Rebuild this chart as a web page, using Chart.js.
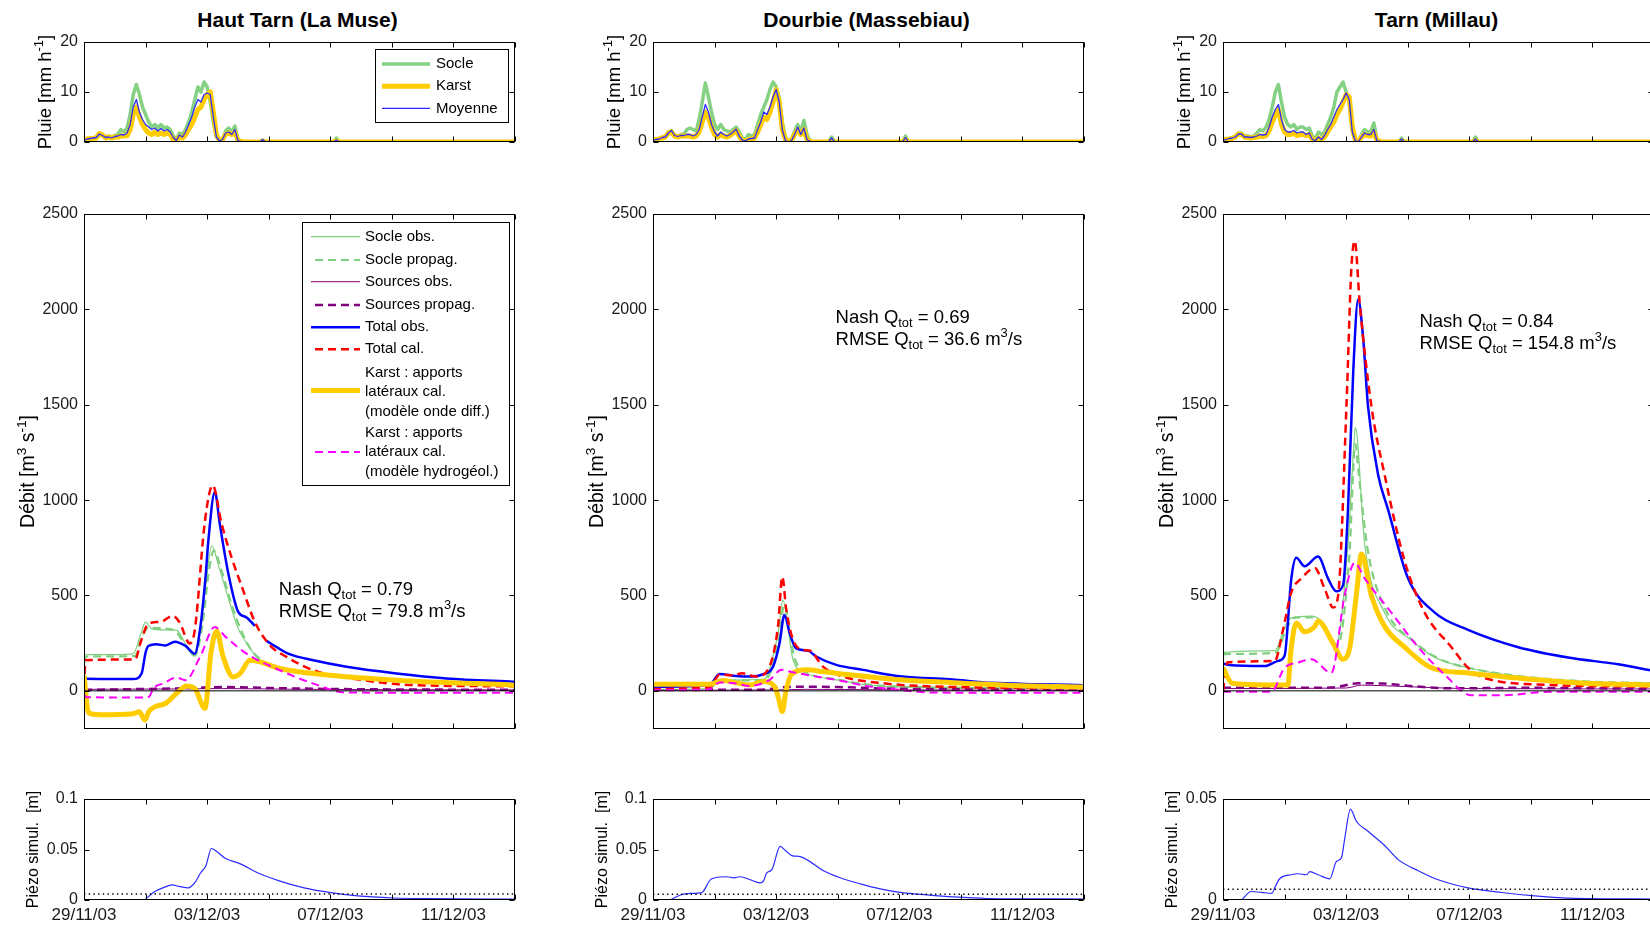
<!DOCTYPE html>
<html><head><meta charset="utf-8">
<script src="https://cdn.jsdelivr.net/npm/chart.js@4.4.1/dist/chart.umd.min.js"></script>
<style>
html,body{margin:0;padding:0;background:#fff;width:1650px;height:925px;overflow:hidden;position:relative}
canvas{position:absolute}
.title{position:absolute;font:bold 21px 'Liberation Sans',Arial,sans-serif;color:#000;transform:translate(-50%,-50%);white-space:nowrap}
</style></head><body>
<script>
// ---------------- DATA ----------------
const titles = ['Haut Tarn (La Muse)', 'Dourbie (Massebiau)', 'Tarn (Millau)'];
const xTickVals = [0, 2, 4, 6, 8, 10, 12, 14];
const xTickLabels = ['29/11/03', '', '03/12/03', '', '07/12/03', '', '11/12/03', ''];
const rainTicks = [0, 10, 20];
const debitTicks = [0, 500, 1000, 1500, 2000, 2500];
const piezoTicksA = [0, 0.05, 0.1];
const piezoTicksB = [0, 0.05];
const nashVals = ['0.79', '0.69', '0.84'];
const rmseVals = ['79.8', '36.6', '154.8'];
const piezoThreshold = [0.006, 0.0057, 0.0053];
const rainLegendLabels = ['Socle', 'Karst', 'Moyenne'];
const debitLegendLabels = [['Socle obs.'], ['Socle propag.'], ['Sources obs.'], ['Sources propag.'], ['Total obs.'], ['Total cal.'],
  ['Karst : apports', 'latéraux cal.', '(modèle onde diff.)'], ['Karst : apports', 'latéraux cal.', '(modèle hydrogéol.)']];

// rain time grid (days since 29/11/03)
const rainT = [0,0.1,0.2,0.3,0.4,0.5,0.6,0.7,0.8,0.9, 1,1.1,1.2,1.3,1.4,1.5,1.6,1.7,1.8,1.9,
  2,2.1,2.2,2.3,2.4,2.5,2.6,2.7,2.8,2.9, 3,3.1,3.2,3.3,3.4,3.5,3.6,3.7,3.8,3.9,
  4,4.1,4.2,4.3,4.4,4.5,4.6,4.7,4.8,4.9, 5,5.1,5.2, 5.7,5.8,5.9,8.1,8.2,8.3,14];

const htRainSocle = [0.3,0.6,0.7,0.8,1.0,1.8,1.5,1.0,1.2,1.0, 1.3,1.5,2.5,2.0,2.8,5.5,9.5,11.5,9.5,7,
  5.5,4,3,3.5,2.8,3.5,2.8,3,2.5,1.2, 0.5,1.8,1.5,2.5,4,6,8.5,11,10,12,
  11,8,4,1,0.2,0.5,2.2,2.8,2,3.2, 0.5,0.1,0, 0,0.4,0,0,0.8,0,0];
const htRainKarst = [0.3,0.6,0.7,0.7,0.8,1.7,1.4,0.8,1.0,0.8, 1.0,1.0,1.2,1.2,1.3,2.5,5.5,7,5,3.5,
  2.5,1.8,1.5,2,1.5,1.8,1.5,1.8,1.5,0.5, 0.3,1.0,0.8,1.5,2.5,3.5,5,6.5,7,8.5,
  9.5,10,6,1.5,0.2,0.5,1.5,1.8,1.5,2, 0.3,0.1,0, 0,0.1,0,0,0.2,0,0];
const htRainMoy = [0.3,0.6,0.7,0.8,0.9,1.6,1.3,0.9,1.0,0.8, 1.1,1.2,1.5,1.4,1.8,3.5,7,8.5,6,4.5,
  3.5,3,2.5,2.8,2.2,2.7,2.2,2.5,2,0.9, 0.3,1.4,1.0,2,3.5,5,7,8.5,8,9.5,
  9.8,9.5,5,1,0.2,0.5,1.8,2,1.5,2.5, 0.3,0.1,0, 0,0.5,0,0,0.4,0,0];

const dbRainSocle = [0.3,0.5,0.7,0.9,1.2,2.0,2.3,1.5,1.2,1.5, 1.5,2.5,2.8,2.5,2.2,4.5,8,11.8,9,6,
  3.5,2.5,3.5,2.5,2.2,2,2.5,3,2,0.8, 0.5,1.5,1.2,1.5,3.5,5.5,7,8.5,10.5,12,
  11,9,4,1,0.2,0.5,2.2,3.5,2,4.3, 1.5,0.2,0, 0,1.0,0,0,1.2,0,0];
const dbRainKarst = [0.3,0.5,0.6,0.8,1.0,1.8,2.0,1.2,1.0,1.2, 1.2,1.2,1.2,1.0,1.2,2.0,4,6,5,3,
  1.5,1.0,1.5,1.2,1.0,1.3,1.8,2.3,1.2,0.3, 0.2,0.5,0.6,0.8,2,3.5,5,4.5,6,8,
  10.5,8,2.5,0.5,0.1,0.3,1.5,2.5,1.5,2.5, 0.5,0.1,0, 0,0.3,0,0,0.5,0,0];
const dbRainMoy = [0.3,0.5,0.6,0.9,1.0,1.8,2.3,1.3,1.1,1.3, 1.3,1.5,1.5,1.2,1.5,2.5,5,7.5,6,3.5,
  2,1.2,2,1.5,1.2,1.5,2,2.6,1.2,0.4, 0.2,0.6,0.7,0.8,2.5,4,6,5.5,7,9,
  10.5,8,2.5,0.3,0,0.3,1.5,3,1.5,2.8, 0.5,0.1,0, 0,0.8,0,0,0.9,0,0];

const tmRainSocle = [0.3,0.5,0.7,0.8,1.2,1.8,1.8,1.2,1.2,1.0, 1.2,1.8,2.5,2.2,3,4.5,7,10,11.5,8,
  5,3.5,3,3.5,2.5,3,3,2.5,2.8,1.2, 0.5,2,1.5,2,3.5,5,7,10,11,12,
  10,8,2.5,0.3,0.1,1.5,2.5,2,2,3.8, 0.5,0.1,0, 0,0.8,0,0,1.0,0,0];
const tmRainKarst = [0.3,0.5,0.6,0.7,1.0,1.6,1.5,1.0,0.9,0.8, 0.9,1.0,1.2,1.1,1.3,2.2,4,5.5,6.5,3.5,
  2,1.5,1.5,1.8,1.3,1.5,1.5,1.3,1.5,0.5, 0.2,0.8,0.5,1,2,3,4,5.5,6.5,8,
  9.5,9,3,0.3,0.1,1,1.5,1.3,1.2,2, 0.3,0.1,0, 0,0.2,0,0,0.3,0,0];
const tmRainMoy = [0.3,0.5,0.7,0.8,1.0,1.6,1.6,1.0,1.0,0.9, 1.0,1.2,1.5,1.4,1.5,3,5,6.5,7.5,4.5,
  2.5,2,2,2.3,1.8,2,2,1.5,1.8,0.5, 0.3,1,0.5,1.3,2.5,3.5,5,6.5,7.5,8.5,
  9.8,8.5,2,0.2,0.1,1,1.8,1.5,1.5,2.5, 0.2,0.1,0, 0,0.6,0,0,0.6,0,0];

// discharge series [day, m3/s]
const htSocleObs = [[0,110],[0.06,190],[1.0,190],[1.6,195],[1.85,300],[2.0,360],[2.2,325],[2.6,320],[3.0,318],[3.25,260],[3.55,187],[3.75,300],[3.95,550],[4.15,760],[4.4,640],[4.7,480],[5.0,330],[5.28,250],[5.6,180],[6.15,126],[7.45,91],[9.6,56],[14,30]];
const htSocleProp = [[0,150],[0.08,180],[1.65,182],[1.9,290],[2.1,330],[2.9,320],[3.3,240],[3.6,185],[3.85,350],[4.05,620],[4.22,735],[4.45,640],[4.8,450],[5.15,300],[5.5,200],[6.2,130],[7.5,90],[9.6,55],[14,32]];
const htSourcesObs = [[0,8],[3,10],[4.5,12],[7,8],[14,5]];
const htSourcesProp = [[0,5],[2,10],[3.5,15],[4.5,20],[6,15],[8,10],[14,5]];
const htTotObs = [[0,63],[1.6,62],[1.87,90],[2.0,200],[2.09,235],[2.35,244],[2.65,238],[2.95,258],[3.3,235],[3.6,195],[3.78,335],[3.95,600],[4.04,789],[4.25,1042],[4.41,876],[4.69,614],[5.01,414],[5.28,385],[5.55,340],[5.7,null],[5.93,262],[6.3,225],[6.63,195],[7.45,160],[8.53,126],[10.15,91],[11.77,65],[14,47]];
const htTotCal = [[0,20],[0.05,160],[1.66,165],[1.85,260],[2.09,352],[2.5,362],[2.88,393],[3.1,360],[3.44,248],[3.6,320],[3.93,893],[4.18,1077],[4.47,876],[4.79,701],[5.17,527],[5.55,361],[6.04,239],[6.58,178],[7.45,108],[9.07,56],[10.7,30],[14,24]];
const htKarstOnde = [[0,80],[0.15,-115],[0.5,-125],[1.6,-120],[1.8,-110],[1.98,-153],[2.1,-110],[2.3,-84],[2.65,-66],[3.0,-14],[3.33,26],[3.6,12],[3.93,-92],[4.12,195],[4.31,312],[4.52,178],[4.85,73],[5.07,91],[5.39,160],[5.71,152],[6.36,117],[7.99,82],[10.15,56],[14,30]];
const htKarstHydro = [[0,-20],[0.08,-33],[2.0,-35],[2.12,-30],[2.25,12],[2.6,40],[3.0,70],[3.3,56],[3.77,178],[4.25,335],[4.6,283],[5.28,195],[6.36,108],[7.45,38],[8.53,-9],[14,-10]];

const dbSocleObs = [[0,8],[1.85,12],[2.15,50],[3.0,58],[3.6,62],[4.06,300],[4.22,476],[4.55,162],[4.98,92],[5.95,58],[6.93,31],[9,18],[14,12]];
const dbSocleProp = [[0,10],[1.9,14],[2.2,48],[3.0,55],[3.65,60],[4.1,280],[4.26,450],[4.6,170],[5.0,98],[6.0,60],[7.0,33],[9,18],[14,12]];
const dbSourcesObs = [[0,3],[4,5],[5,8],[8,5],[14,3]];
const dbSourcesProp = [[0,5],[3.5,6],[4.5,22],[6,20],[7.5,12],[10,8],[14,5]];
const dbTotObs = [[0,22],[1.84,31],[2.16,89],[2.7,78],[3.14,75],[3.57,87],[3.9,127],[4.11,250],[4.27,398],[4.44,302],[4.65,223],[5.03,211],[5.3,180],[5.95,136],[6.82,110],[8.1,75],[9.63,61],[11,42],[12.5,35],[14,30]];
const dbTotCal = [[0,10],[1.85,20],[2.16,85],[2.6,82],[2.9,92],[3.35,75],[3.73,110],[4.06,337],[4.2,598],[4.33,424],[4.55,267],[4.87,215],[5.1,210],[5.52,127],[6.17,75],[7.47,40],[9.1,23],[14,14]];
const dbKarstOnde = [[0,35],[1.85,35],[2.27,54],[2.7,42],[3.14,31],[3.57,49],[3.95,23],[4.08,-40],[4.2,-108],[4.32,0],[4.49,84],[4.98,110],[5.52,101],[6.39,84],[8.01,58],[9.63,44],[11.5,30],[14,20]];
const dbKarstHydro = [[0,5],[1.8,6],[2.16,44],[2.7,38],[3.14,26],[3.79,58],[4.17,110],[4.44,101],[4.98,84],[5.95,58],[6.93,26],[8.01,5],[9.1,-9],[14,-10]];

const tmSocleObs = [[0,150],[0.04,202],[1.68,211],[2.0,330],[2.22,383],[2.87,392],[3.2,365],[3.68,247],[4.06,771],[4.26,1312],[4.3,1380],[4.6,771],[5.25,410],[6.12,265],[6.88,175],[7.96,121],[9.59,76],[11.75,49],[14,40]];
const tmSocleProp = [[0,193],[1.7,200],[2.05,320],[2.3,383],[2.9,385],[3.25,350],[3.72,240],[4.1,700],[4.3,1294],[4.4,1150],[4.7,740],[5.3,420],[6.2,260],[7,170],[8,120],[9.6,78],[11.75,50],[14,40]];
const tmSourcesObs = [[0,12],[4,15],[4.5,30],[5.5,25],[8,12],[14,10]];
const tmSourcesProp = [[0,16],[3.5,17],[4.4,40],[5.2,38],[6.5,20],[7.5,13],[9.6,16],[14,10]];
const tmTotObs = [[0,144],[0.2,135],[1.35,130],[1.79,157],[2.0,184],[2.22,590],[2.38,698],[2.65,653],[3.09,704],[3.41,590],[3.68,522],[3.9,554],[4.06,951],[4.23,1673],[4.39,2052],[4.55,1854],[4.71,1493],[5.04,1132],[5.36,951],[6.01,590],[6.88,410],[7.96,320],[9.59,229],[11.21,175],[12.84,139],[14,104]];
const tmTotCal = [[0,0],[0.15,150],[1.68,157],[1.95,320],[2.22,518],[2.55,590],[2.98,644],[3.3,536],[3.58,437],[3.74,500],[4.01,1493],[4.17,2215],[4.28,2359],[4.44,2034],[4.82,1493],[5.25,1132],[5.9,680],[6.55,410],[7.42,229],[7.96,121],[8.5,67],[10.67,31],[14,22]];
const tmKarstOnde = [[0,121],[0.3,40],[1.5,31],[2.11,31],[2.2,200],[2.38,356],[2.65,310],[2.98,338],[3.09,365],[3.58,247],[3.9,166],[4.12,229],[4.33,500],[4.5,717],[4.82,500],[5.25,338],[5.9,229],[6.77,121],[7.96,94],[9.59,67],[11.75,40],[14,31]];
const tmKarstHydro = [[0,-5],[1.57,-5],[2.0,121],[2.44,148],[2.87,166],[3.52,94],[3.95,500],[4.28,671],[4.6,590],[5.47,410],[6.34,229],[7.2,85],[8.07,-23],[9.05,-23],[10.67,-5],[14,-5]];

// simulated piezometric level [day, m]
const htPiezo = [[1.97,0],[2.28,0.008],[2.6,0.0125],[2.86,0.015],[3.09,0.0135],[3.38,0.012],[3.62,0.018],[3.79,0.027],[3.96,0.034],[4.14,0.051],[4.31,0.048],[4.6,0.041],[5.06,0.036],[5.64,0.027],[6.34,0.019],[7.15,0.012],[7.96,0.0075],[8.89,0.004],[10.05,0.002],[11.2,0.0013],[14,0.0008]];
const dbPiezo = [[0.56,0],[0.89,0.005],[1.21,0.0065],[1.54,0.007],[1.62,0.008],[1.86,0.02],[2.02,0.022],[2.4,0.023],[2.62,0.022],[2.84,0.023],[3.16,0.02],[3.48,0.017],[3.59,0.019],[3.7,0.027],[3.86,0.03],[4.13,0.053],[4.3,0.049],[4.51,0.044],[4.78,0.043],[5.05,0.039],[5.54,0.029],[6.08,0.022],[6.73,0.016],[7.38,0.011],[8.03,0.0075],[8.9,0.005],[9.76,0.003],[10.84,0.0015],[14,0.001]];
const tmPiezo = [[0.6,0],[0.92,0.0042],[1.25,0.0038],[1.59,0.0033],[1.68,0.006],[1.84,0.0105],[2.22,0.0125],[2.44,0.013],[2.71,0.0125],[2.82,0.014],[3.09,0.0125],[3.47,0.0105],[3.68,0.019],[3.85,0.021],[3.95,0.03],[4.14,0.045],[4.33,0.039],[4.71,0.034],[5.25,0.027],[5.69,0.02],[6.34,0.0145],[6.99,0.01],[7.96,0.006],[9.05,0.0037],[10.13,0.002],[11.43,0.0008],[14,0.0005]];

// ---------------- LAYOUT / STYLE ----------------
const FONT = "'Liberation Sans', Arial, sans-serif";
const plotLefts = [84, 653, 1223];
const PW = 431, YW = 80, PADT = 18, PADR = 20;
const rows = { rain: {top: 42, h: 100, xh: 20}, debit: {top: 214, h: 515, xh: 20}, piezo: {top: 799, h: 101, xh: 25} };
const notePos = [[6.33, 502, 387], [5.93, 1929, 1813], [6.38, 1908, 1792]];

const GREEN = '#7fcf7f';
const rainStyles = [
  {borderColor: '#84d184', borderWidth: 3.5},
  {borderColor: '#ffcc00', borderWidth: 5},
  {borderColor: '#2b2bff', borderWidth: 1.3}
];
const debitStyles = [
  {borderColor: GREEN, borderWidth: 1.2},
  {borderColor: GREEN, borderWidth: 2.2, borderDash: [8, 5]},
  {borderColor: '#800080', borderWidth: 1},
  {borderColor: '#800080', borderWidth: 2.5, borderDash: [8, 5]},
  {borderColor: '#0000ff', borderWidth: 2.5},
  {borderColor: '#ff0000', borderWidth: 2.5, borderDash: [8, 5]},
  {borderColor: '#ffcc00', borderWidth: 5},
  {borderColor: '#ff00ff', borderWidth: 2, borderDash: [8, 5]}
];

// ---------------- HELPERS ----------------
function richWidth(ctx, segs, size) {
  let w = 0;
  for (const [t, k] of segs) { ctx.font = (k === 'n' ? size : size * 0.7) + 'px ' + FONT; w += ctx.measureText(t).width; }
  return w;
}
function drawRich(ctx, segs, x, y, size, align) {
  const w = richWidth(ctx, segs, size);
  let cx = align === 'center' ? x - w / 2 : x;
  ctx.textAlign = 'left'; ctx.textBaseline = 'alphabetic'; ctx.fillStyle = '#000';
  for (const [t, k] of segs) {
    const s = k === 'n' ? size : size * 0.7;
    ctx.font = s + 'px ' + FONT;
    const dy = k === 'sup' ? -size * 0.42 : (k === 'sub' ? size * 0.22 : 0);
    ctx.fillText(t, cx, y + dy);
    cx += ctx.measureText(t).width;
  }
}
const framePlugin = {
  id: 'frame',
  afterDraw(chart, args, o) {
    const {ctx, chartArea: a, scales: {x, y}} = chart;
    ctx.save();
    ctx.strokeStyle = '#000'; ctx.lineWidth = 1; ctx.setLineDash([]);
    const L = Math.round(a.left) + 0.5, T = Math.round(a.top) + 0.5, R = Math.round(a.right) - 0.5, B = Math.round(a.bottom) - 0.5;
    ctx.strokeRect(L, T, R - L, B - T);
    const TL = 5;
    ctx.beginPath();
    for (const t of x.ticks) {
      const px = Math.round(x.getPixelForValue(t.value)) + 0.5;
      ctx.moveTo(px, B); ctx.lineTo(px, B - TL);
      ctx.moveTo(px, T); ctx.lineTo(px, T + TL);
    }
    for (const t of y.ticks) {
      const py = Math.round(y.getPixelForValue(t.value)) + 0.5;
      ctx.moveTo(L, py); ctx.lineTo(L + TL, py);
      ctx.moveTo(R, py); ctx.lineTo(R - TL, py);
    }
    ctx.stroke();
    if (o.ylabel) {
      const cy = (a.top + a.bottom) / 2, cx = a.left + o.ylabel.dx;
      ctx.save();
      ctx.translate(cx + o.ylabel.size * 0.36, cy);
      ctx.rotate(-Math.PI / 2);
      drawRich(ctx, o.ylabel.segs, 0, 0, o.ylabel.size, 'center');
      ctx.restore();
    }
    if (o.notes) for (const n of o.notes) drawRich(ctx, n.segs, x.getPixelForValue(n.t), y.getPixelForValue(n.v), n.size, 'left');
    if (o.legend) {
      const g = o.legend, x0 = Math.round(a.left + g.dx), y0 = Math.round(a.top + g.dy);
      ctx.fillStyle = '#fff'; ctx.fillRect(x0, y0, g.w, g.h);
      ctx.strokeStyle = '#000'; ctx.lineWidth = 1; ctx.strokeRect(x0 + 0.5, y0 + 0.5, g.w, g.h);
      g.items.forEach((it) => {
        const st = it.style;
        ctx.save();
        ctx.strokeStyle = st.borderColor; ctx.lineWidth = st.borderWidth; ctx.setLineDash(st.borderDash || []);
        ctx.lineDashOffset = st.borderDash ? -4 : 0;
        ctx.beginPath(); ctx.moveTo(x0 + g.sx0, y0 + it.ly); ctx.lineTo(x0 + g.sx1, y0 + it.ly); ctx.stroke();
        ctx.restore();
        ctx.fillStyle = '#000'; ctx.font = g.size + 'px ' + FONT; ctx.textAlign = 'left'; ctx.textBaseline = 'middle';
        it.lines.forEach((t, j) => ctx.fillText(t, x0 + g.tx, y0 + it.ty + j * g.lh));
      });
    }
    ctx.restore();
  }
};
function lineDS(pairs, style, extra) {
  return Object.assign({data: pairs.map(([x, y]) => ({x, y})), pointRadius: 0, fill: false, tension: 0,
    clip: 0, borderCapStyle: 'butt', borderJoinStyle: 'round', spanGaps: false}, style, extra || {});
}
function makeChart(col, rowKey, datasets, yMin, yMax, yTicks, frame) {
  const r = rows[rowKey];
  const W = YW + PW + PADR, H = PADT + r.h + r.xh;
  const cv = document.createElement('canvas');
  cv.width = W; cv.height = H;
  cv.style.left = (plotLefts[col] - YW) + 'px'; cv.style.top = (r.top - PADT) + 'px';
  cv.style.width = W + 'px'; cv.style.height = H + 'px';
  document.body.appendChild(cv);
  const n = datasets.length;
  datasets.forEach((d, i) => { d.order = n - i; });
  return new Chart(cv, {
    type: 'line',
    data: {datasets},
    plugins: [framePlugin],
    options: {
      responsive: false, animation: false, devicePixelRatio: 1, events: [],
      layout: {padding: {top: PADT, right: PADR, left: 0, bottom: 0}},
      plugins: {legend: {display: false}, tooltip: {enabled: false}, frame},
      scales: {
        x: {type: 'linear', min: 0, max: 14,
          grid: {display: false, drawTicks: false}, border: {display: false},
          afterBuildTicks: s => { s.ticks = xTickVals.map(v => ({value: v})); },
          afterFit: s => { s.height = r.xh; },
          ticks: {display: rowKey === 'piezo', autoSkip: false, maxRotation: 0, minRotation: 0, padding: 5,
            font: {family: FONT, size: 17}, color: '#1a1a1a', callback: (v, i) => xTickLabels[i]}},
        y: {type: 'linear', min: yMin, max: yMax,
          grid: {display: false, drawTicks: false}, border: {display: false},
          afterBuildTicks: s => { s.ticks = yTicks.map(v => ({value: v})); },
          afterFit: s => { s.width = YW; },
          ticks: {padding: 6, font: {family: FONT, size: 16}, color: '#1a1a1a', callback: v => String(v)}}
      }
    }
  });
}

// ---------------- BUILD ----------------
const rainSets = [[htRainSocle, htRainKarst, htRainMoy], [dbRainSocle, dbRainKarst, dbRainMoy], [tmRainSocle, tmRainKarst, tmRainMoy]];
const debitSets = [
  [htSocleObs, htSocleProp, htSourcesObs, htSourcesProp, htTotObs, htTotCal, htKarstOnde, htKarstHydro],
  [dbSocleObs, dbSocleProp, dbSourcesObs, dbSourcesProp, dbTotObs, dbTotCal, dbKarstOnde, dbKarstHydro],
  [tmSocleObs, tmSocleProp, tmSourcesObs, tmSourcesProp, tmTotObs, tmTotCal, tmKarstOnde, tmKarstHydro]
];
const piezoSets = [htPiezo, dbPiezo, tmPiezo];

const rainLabel = {dx: -40, size: 18.5, segs: [['Pluie [mm h', 'n'], ['-1', 'sup'], [']', 'n']]};
const debitLabel = {dx: -57, size: 19.5, segs: [['Débit [m', 'n'], ['3', 'sup'], [' s', 'n'], ['-1', 'sup'], [']', 'n']]};
const piezoLabel = {dx: -52, size: 16, segs: [['Piézo simul.  [m]', 'n']]};

const rainLegend = {dx: 291, dy: 7, w: 133, h: 73, sx0: 7, sx1: 55, tx: 61, size: 15, lh: 19.7,
  items: rainLegendLabels.map((l, i) => ({lines: [l], ly: 15 + i * 22.2, ty: 15 + i * 22.2, style: rainStyles[i]}))};
const debitLegendY = [[14.7, 14.7], [38, 38], [59.7, 59.7], [83, 83], [105.3, 105.3], [127.3, 127.3], [168.5, 150.5], [230, 210.5]];
const debitLegend = {dx: 218, dy: 8, w: 207, h: 263, sx0: 9, sx1: 58, tx: 63, size: 15, lh: 19.7,
  items: debitLegendLabels.map((l, i) => ({lines: l, ly: debitLegendY[i][0], ty: debitLegendY[i][1], style: debitStyles[i]}))};

for (let c = 0; c < 3; c++) {
  const d = document.createElement('div');
  d.className = 'title'; d.textContent = titles[c];
  d.style.left = (plotLefts[c] + PW / 2 - 2) + 'px'; d.style.top = '20px';
  document.body.appendChild(d);

  const rds = rainSets[c].map((vals, i) => lineDS(vals.map((v, k) => [rainT[k], v]), rainStyles[i]));
  makeChart(c, 'rain', rds, 0, 20, rainTicks, {ylabel: rainLabel, legend: c === 0 ? rainLegend : null});

  const dds = debitSets[c].map((p, i) => lineDS(p, debitStyles[i], {cubicInterpolationMode: 'monotone'}));
  dds.push(lineDS([[0, 0], [14, 0]], {borderColor: '#000', borderWidth: 1}));
  const np = notePos[c];
  const notes = [
    {t: np[0], v: np[1], size: 18.5, segs: [['Nash Q', 'n'], ['tot', 'sub'], [' = ' + nashVals[c], 'n']]},
    {t: np[0], v: np[2], size: 18.5, segs: [['RMSE Q', 'n'], ['tot', 'sub'], [' = ' + rmseVals[c] + ' m', 'n'], ['3', 'sup'], ['/s', 'n']]}
  ];
  makeChart(c, 'debit', dds, -200, 2500, debitTicks, {ylabel: debitLabel, notes, legend: c === 0 ? debitLegend : null});

  const pmax = c === 2 ? 0.05 : 0.1;
  const pds = [
    lineDS(piezoSets[c], {borderColor: '#2b2bff', borderWidth: 1.2}, {cubicInterpolationMode: 'monotone'}),
    lineDS([[0, piezoThreshold[c]], [14, piezoThreshold[c]]], {borderColor: '#000', borderWidth: 1.4, borderDash: [1.4, 3.3]})
  ];
  makeChart(c, 'piezo', pds, 0, pmax, c === 2 ? piezoTicksB : piezoTicksA, {ylabel: piezoLabel});
}
</script>
</body></html>
